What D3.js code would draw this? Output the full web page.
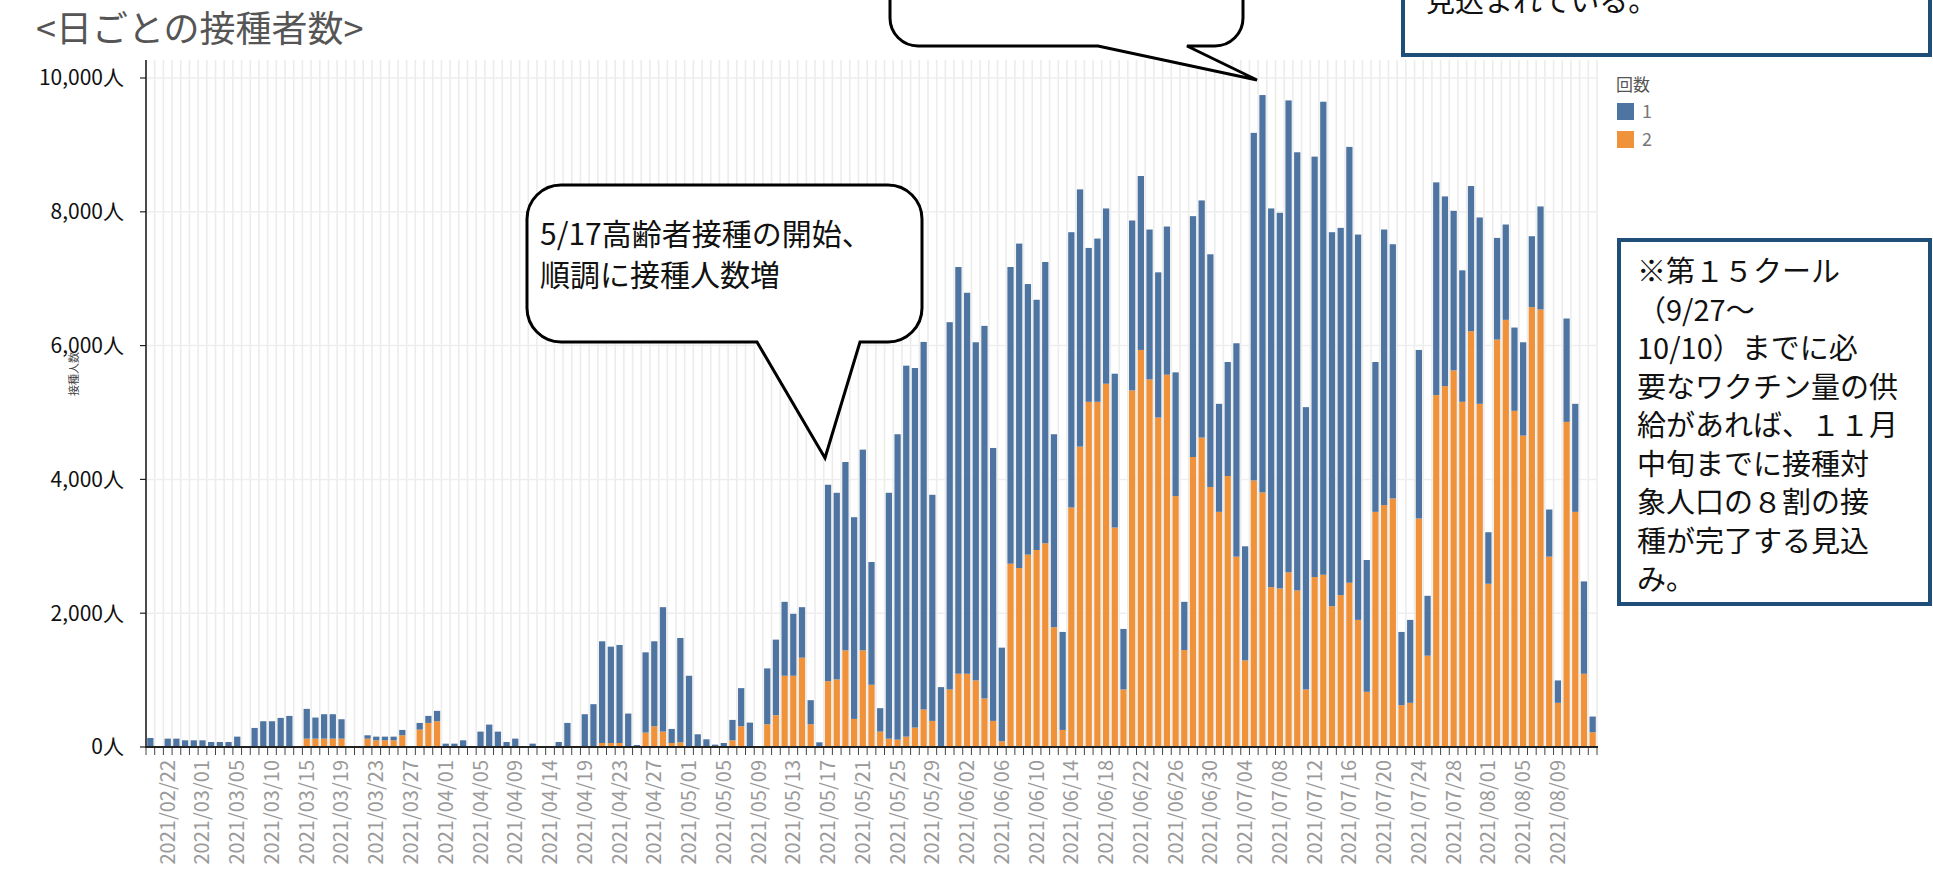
<!DOCTYPE html>
<html>
<head>
<meta charset="utf-8">
<script src="https://cdn.jsdelivr.net/npm/d3@7"></script>
<style>
body{margin:0;background:#fff;}
svg{display:block;font-family:"Noto Sans CJK JP","Noto Sans",sans-serif;}
</style>
</head>
<body>
<div id="chart"></div>
<script>
// 日付（カテゴリ）: 4/17まではとびとび、4/19以降は毎日
var earlyDates = ["02/19","02/20","02/22","02/24","02/25","02/26","03/01","03/02","03/03","03/04",
  "03/05","03/06","03/08","03/09","03/10","03/11","03/12","03/13","03/15","03/16",
  "03/17","03/18","03/19","03/20","03/21","03/22","03/23","03/24","03/25","03/26",
  "03/27","03/29","03/30","03/31","04/01","04/02","04/03","04/04","04/05","04/06",
  "04/07","04/08","04/09","04/10","04/12","04/13","04/14","04/15","04/16","04/17"];
var fmt = d3.timeFormat("%m/%d");
var lateDates = d3.timeDay.range(new Date(2021,3,19), new Date(2021,7,14)).map(fmt);
var dates = earlyDates.concat(lateDates).map(function(d){ return "2021/" + d; });

// 1回目（青）
var dose1 = [135,0,125,125,100,100,100,75,75,75,
  155,0,285,385,385,435,465,0,445,315,
  365,365,290,0,0,50,55,55,55,80,
  0,100,105,155,50,50,100,0,230,335,
  230,75,125,0,50,0,0,75,360,0,
  490,640,1520,1440,1465,500,30,1200,1270,1860,
  210,1560,1065,190,115,35,60,305,570,365,
  0,835,1130,1105,925,755,360,70,2935,2790,
  2815,3015,3000,1835,350,3675,4565,5545,5375,5495,
  3380,895,5490,6080,5695,5055,5570,4080,1400,4435,
  4850,4045,3740,4205,2885,1465,4115,3845,2300,2440,
  2620,2300,905,2540,2600,2240,2170,2215,1850,720,
  3600,3545,3480,1615,1705,3190,1705,5195,5940,5660,
  5615,7055,6550,4220,6285,7070,5590,5490,6515,5760,
  1970,2240,4120,3800,1095,1240,2520,895,3180,2835,
  2385,1965,2170,2785,770,1520,1425,1245,1395,1060,
  1540,705,335,1545,1615,1380,235];

// 2回目（オレンジ）
var dose2 = [0,0,0,0,0,0,0,0,0,0,
  0,0,0,0,0,0,0,0,125,125,
  125,125,125,0,0,125,100,100,100,175,
  0,260,360,385,0,0,0,0,0,0,
  0,0,0,0,0,0,0,0,0,0,
  0,0,60,60,60,0,0,215,310,230,
  60,70,0,0,0,0,0,100,310,0,
  0,340,475,1065,1065,1335,340,0,985,1010,
  1445,420,1445,930,230,125,110,155,290,560,
  390,0,860,1095,1095,995,725,390,85,2740,
  2675,2875,2945,3045,1790,255,3580,4490,5160,5160,
  5430,3280,860,5330,5935,5495,4925,5565,3750,1450,
  4335,4625,3885,3515,4050,2845,1295,3985,3805,2390,
  2370,2610,2340,860,2540,2575,2105,2270,2455,1900,
  825,3515,3615,3715,625,660,3415,1365,5260,5395,
  5630,5160,6215,5130,2440,6090,6385,5025,4655,6575,
  6540,2845,660,4860,3515,1095,220];

var yTicks = [0,2000,4000,6000,8000,10000];
var legendKeys = ["1","2"];

var W = 1933, H = 870;
var BLUE = "#4e74a1", ORANGE = "#f0923a";

var svg = d3.select("#chart").append("svg").attr("width",W).attr("height",H);

var x = d3.scaleBand().domain(dates).range([146,1597]).paddingInner(0.28).paddingOuter(0.14);
var y = d3.scaleLinear().domain([0,10000]).range([747,78]);
var step = x.step();

// 縦のうすい線（カテゴリの区切り）
svg.append("g").selectAll("line").data(d3.range(dates.length+1)).enter().append("line")
  .attr("x1",function(i){return 146+i*step;}).attr("x2",function(i){return 146+i*step;})
  .attr("y1",60).attr("y2",747)
  .attr("stroke","#ececec").attr("stroke-width",1.6);

// 横のグリッド
svg.append("g").selectAll("line").data(yTicks.slice(1)).enter().append("line")
  .attr("x1",146).attr("x2",1597)
  .attr("y1",function(d){return y(d);}).attr("y2",function(d){return y(d);})
  .attr("stroke","#eeeeee").attr("stroke-width",1.5);

// 積み上げ棒
var rows = dates.map(function(d,i){ return {date:d, d1:dose1[i], d2:dose2[i]}; });
var stack = d3.stack().keys(["d2","d1"])(rows);
var colors = {d1:BLUE, d2:ORANGE};
svg.append("g").selectAll("g").data(stack).enter().append("g")
  .attr("fill",function(s){return colors[s.key];})
  .selectAll("rect").data(function(s){return s;}).enter().append("rect")
  .attr("x",function(d){return x(d.data.date);})
  .attr("width",x.bandwidth())
  .attr("y",function(d){return y(d[1]);})
  .attr("height",function(d){return y(d[0])-y(d[1]);});

// 軸
svg.append("line").attr("x1",146).attr("x2",146).attr("y1",60).attr("y2",747)
  .attr("stroke","#222").attr("stroke-width",1.6);
svg.append("line").attr("x1",145).attr("x2",1598).attr("y1",747).attr("y2",747)
  .attr("stroke","#222").attr("stroke-width",2);

svg.append("g").selectAll("line").data(yTicks).enter().append("line")
  .attr("x1",140).attr("x2",146)
  .attr("y1",function(d){return y(d);}).attr("y2",function(d){return y(d);})
  .attr("stroke","#222").attr("stroke-width",1.2);
svg.append("g").selectAll("text").data(yTicks).enter().append("text")
  .attr("x",124).attr("y",function(d){return y(d);}).attr("dy","0.35em")
  .attr("text-anchor","end").attr("font-size",21).attr("fill","#111")
  .text(function(d){return d3.format(",")(d) + "人";});

svg.append("text").attr("transform","translate(78,374) rotate(-90)")
  .attr("text-anchor","middle").attr("font-size",11).attr("fill","#444").text("接種人数");

// 下の目盛り
svg.append("g").selectAll("line").data(d3.range(dates.length+1)).enter().append("line")
  .attr("x1",function(i){return 146+i*step;}).attr("x2",function(i){return 146+i*step;})
  .attr("y1",748).attr("y2",755)
  .attr("stroke","#444").attr("stroke-width",1);

// ラベルは4本おき（08/09まで）
var shown = dates.filter(function(d,i){ return i % 4 == 2 && i <= 162; });
svg.append("g").selectAll("text").data(shown).enter().append("text")
  .attr("transform",function(d){ return "translate(" + (x(d)+x.bandwidth()/2) + ",760) rotate(-90)"; })
  .attr("dy","0.35em").attr("text-anchor","end")
  .attr("font-size",20).attr("fill","#9a9a9a").text(function(d){return d;});

// タイトル
svg.append("text").attr("x",36).attr("y",42).attr("font-size",36).attr("fill","#555")
  .text("<日ごとの接種者数>");

// 凡例
svg.append("text").attr("x",1616).attr("y",91).attr("font-size",17).attr("fill","#555").text("回数");
var lg = svg.append("g").selectAll("g").data(legendKeys).enter().append("g")
  .attr("transform",function(d,i){return "translate(1617," + (103+i*28) + ")";});
lg.append("rect").attr("width",17).attr("height",17)
  .attr("fill",function(d,i){return i==0 ? BLUE : ORANGE;});
lg.append("text").attr("x",25).attr("y",9).attr("dy","0.35em").attr("font-size",18).attr("fill","#777")
  .text(function(d){return d;});

// 吹き出し
function balloon(x0,y0,x1,y1,r,bl,br,tx,ty){
  var p = d3.path();
  p.moveTo(x0+r,y0);
  p.lineTo(x1-r,y0); p.arcTo(x1,y0,x1,y0+r,r);
  p.lineTo(x1,y1-r); p.arcTo(x1,y1,x1-r,y1,r);
  p.lineTo(br,y1); p.lineTo(tx,ty); p.lineTo(bl,y1);
  p.lineTo(x0+r,y1); p.arcTo(x0,y1,x0,y1-r,r);
  p.lineTo(x0,y0+r); p.arcTo(x0,y0,x0+r,y0,r);
  p.closePath();
  return p.toString();
}
svg.append("path").attr("d",balloon(890,-60,1243,46,28,1098,1187,1257,80))
  .attr("fill","#fff").attr("stroke","#000").attr("stroke-width",3);

svg.append("path").attr("d",balloon(527,185,922,342,34,757,860,825,458))
  .attr("fill","#fff").attr("stroke","#000").attr("stroke-width",3);
svg.append("text").attr("x",540).attr("y",245).attr("font-size",30).attr("fill","#111")
  .text("5/17高齢者接種の開始、");
svg.append("text").attr("x",540).attr("y",286).attr("font-size",30).attr("fill","#111")
  .text("順調に接種人数増");

// 右上の枠（上が切れている）
svg.append("rect").attr("x",1403).attr("y",-60).attr("width",527).attr("height",115)
  .attr("fill","#fff").attr("stroke","#1f4e79").attr("stroke-width",4);
svg.append("text").attr("x",1426).attr("y",12).attr("font-size",29).attr("fill","#111")
  .text("見込まれている。");

// 右の注記
var note = ["※第１５クール","（9/27～","10/10）までに必","要なワクチン量の供","給があれば、１１月",
  "中旬までに接種対","象人口の８割の接","種が完了する見込","み。"];
svg.append("rect").attr("x",1619).attr("y",240).attr("width",311).attr("height",364)
  .attr("fill","#fff").attr("stroke","#1f4e79").attr("stroke-width",4);
svg.append("g").selectAll("text").data(note).enter().append("text")
  .attr("x",1637).attr("y",function(d,i){return 282+i*38.5;})
  .attr("font-size",29).attr("fill","#111").text(function(d){return d;});
</script>
</body>
</html>
